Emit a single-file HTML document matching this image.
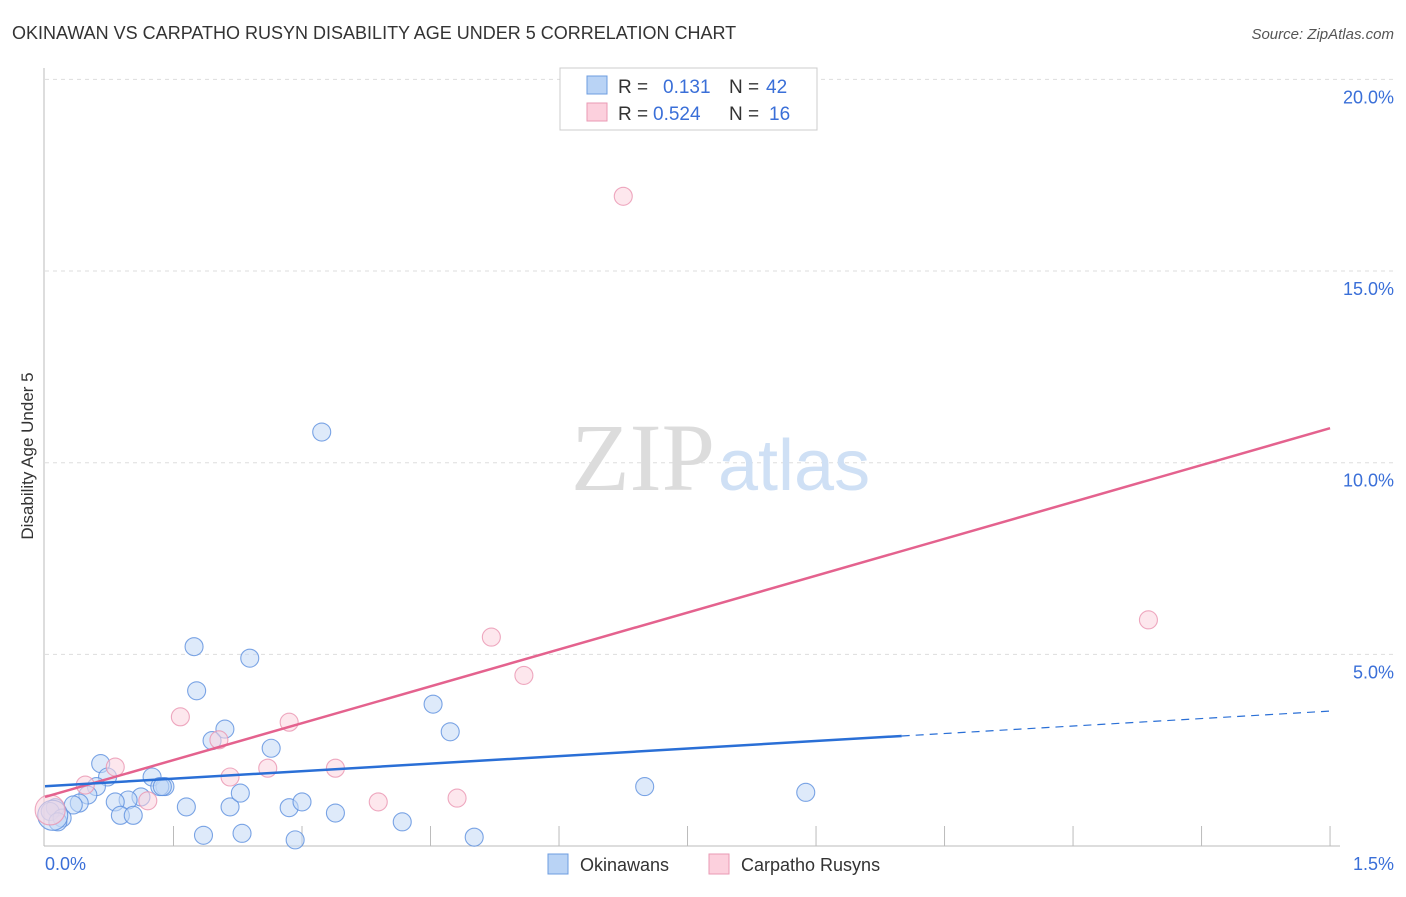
<!DOCTYPE html>
<html><head><meta charset="utf-8"><style>
body{margin:0;background:#fff;font-family:"Liberation Sans",sans-serif}
svg text{font-family:"Liberation Sans",sans-serif}
</style></head><body>
<svg width="1406" height="892">
<text x="12" y="39" font-size="18" fill="#333">OKINAWAN VS CARPATHO RUSYN DISABILITY AGE UNDER 5 CORRELATION CHART</text>
<text x="1394" y="39" font-size="15" fill="#555" font-style="italic" text-anchor="end">Source: ZipAtlas.com</text>
<g id="grid"></g>
<text x="715" y="490" font-size="96" fill="#dcdcdc" text-anchor="end" style="font-family:'Liberation Serif',serif">ZIP</text>
<text x="718" y="490" font-size="72" fill="#cfe0f5">atlas</text>
<line x1="44" y1="68" x2="44" y2="846" stroke="#bbb"/>
<line x1="44" y1="846" x2="1340" y2="846" stroke="#bbb"/>
<text transform="translate(33,456) rotate(-90)" font-size="17" fill="#333" text-anchor="middle">Disability Age Under 5</text>
<text x="45" y="870" font-size="18" fill="#3a6fd8">0.0%</text>
<text x="1394" y="870" font-size="18" fill="#3a6fd8" text-anchor="end">1.5%</text>
<g id="marks"></g>
<g>
<rect x="560" y="68" width="257" height="62" fill="#fff" stroke="#ccc"/>
<rect x="587" y="76" width="20" height="18" fill="#b9d3f5" stroke="#6d9de0"/>
<rect x="587" y="103" width="20" height="18" fill="#fcd0dd" stroke="#ea9ab4"/>
<text x="618" y="93" font-size="19" fill="#333">R = </text><text x="663" y="93" font-size="19" fill="#3a6fd8">0.131</text>
<text x="729" y="93" font-size="19" fill="#333">N = </text><text x="766" y="93" font-size="19" fill="#3a6fd8">42</text>
<text x="618" y="120" font-size="19" fill="#333">R = </text><text x="653" y="120" font-size="19" fill="#3a6fd8">0.524</text>
<text x="729" y="120" font-size="19" fill="#333">N = </text><text x="769" y="120" font-size="19" fill="#3a6fd8">16</text>
</g>
<g>
<rect x="548" y="854" width="20" height="20" fill="#b9d3f5" stroke="#6d9de0"/>
<text x="580" y="871" font-size="18" fill="#333">Okinawans</text>
<rect x="709" y="854" width="20" height="20" fill="#fcd0dd" stroke="#ea9ab4"/>
<text x="741" y="871" font-size="18" fill="#333">Carpatho Rusyns</text>
</g>
</svg>
<script>
const yTicks=[5,10,15,20];
const xTickVals=[0.15,0.3,0.45,0.6,0.75,0.9,1.05,1.2,1.35,1.5];
const blueX=[0.323,0.174,0.239,0.177,0.210,0.195,0.264,0.065,0.073,0.125,0.060,0.050,0.140,0.134,0.112,0.097,0.082,0.040,0.033,0.012,0.006,0.020,0.015,0.088,0.103,0.165,0.216,0.228,0.285,0.300,0.339,0.185,0.230,0.292,0.417,0.501,0.453,0.473,0.700,0.888,0.137,0.009];
const blueY=[10.8,5.2,4.9,4.05,3.05,2.75,2.55,2.15,1.8,1.8,1.55,1.33,1.55,1.55,1.28,1.2,1.15,1.12,1.07,1.0,0.9,0.73,0.63,0.8,0.8,1.02,1.02,1.38,1.0,1.15,0.86,0.28,0.33,0.16,0.63,0.23,3.7,2.98,1.55,1.4,1.55,0.8];
const blueR=[9,9,9,9,9,9,9,9,9,9,9,9,9,9,9,9,9,9,9,9,9,9,9,9,9,9,9,9,9,9,9,9,9,9,9,9,9,9,9,9,9,15];
const pinkX=[0.675,1.288,0.521,0.559,0.158,0.285,0.203,0.216,0.260,0.339,0.082,0.047,0.120,0.389,0.481,0.006];
const pinkY=[16.95,5.9,5.45,4.45,3.37,3.23,2.77,1.8,2.03,2.03,2.06,1.59,1.18,1.15,1.25,0.94];
const pinkR=[9,9,9,9,9,9,9,9,9,9,9,9,9,9,9,15];
const blueLine=[[0,1.56],[1.0,2.87]],blueDash=[[1.0,2.87],[1.5,3.52]];
const pinkLine=[[0,1.28],[1.5,10.9]];
const X=v=>45+v*856.7, Y=v=>846-v*38.33;
const NS='http://www.w3.org/2000/svg';
const g=document.getElementById('grid'), m=document.getElementById('marks');
function mk(p,t,a){const e=document.createElementNS(NS,t);for(const k in a)e.setAttribute(k,a[k]);p.appendChild(e);return e;}
yTicks.forEach(t=>{
 const l=mk(g,'line',{x1:45,x2:1394,y1:Y(t),y2:Y(t),stroke:'#ddd','stroke-dasharray':'4,4'});
 
 
 const tx=mk(g,'text',{x:1394,y:Y(t)+24,'font-size':18,fill:'#3a6fd8','text-anchor':'end'});tx.textContent=t.toFixed(1)+'%';
 
 
});
xTickVals.forEach(t=>{
 const l=mk(g,'line',{x1:X(t),x2:X(t),y1:826,y2:846,stroke:'#bbb'});
 
 
});
function dots(xs,ys,rs,fill,stroke,name){xs.forEach((x,i)=>{
 const c=mk(m,'circle',{cx:X(x),cy:Y(ys[i]),r:rs[i],fill:fill,'fill-opacity':0.55,stroke:stroke,'stroke-width':1.1,'stroke-opacity':0.8});
 
 
});}
dots(blueX,blueY,blueR,'#c2d8f5','#5b8ede','okinawan-point');
dots(pinkX,pinkY,pinkR,'#fcd3df','#ea94b0','carpatho-rusyn-point');
function ln(p,col,name,dash,w){const l=mk(m,'line',{x1:X(p[0][0]),y1:Y(p[0][1]),x2:X(p[1][0]),y2:Y(p[1][1]),stroke:col,'stroke-width':w});if(dash)l.setAttribute('stroke-dasharray',dash);
 
 }
ln(pinkLine,'#e4628e','carpatho-rusyn-trendline',null,2.5);
ln(blueLine,'#2a6fd6','okinawan-trendline',null,2.5);
ln(blueDash,'#2a6fd6','okinawan-trendline-extension','8,6',1.2);
</script>
</body></html>
